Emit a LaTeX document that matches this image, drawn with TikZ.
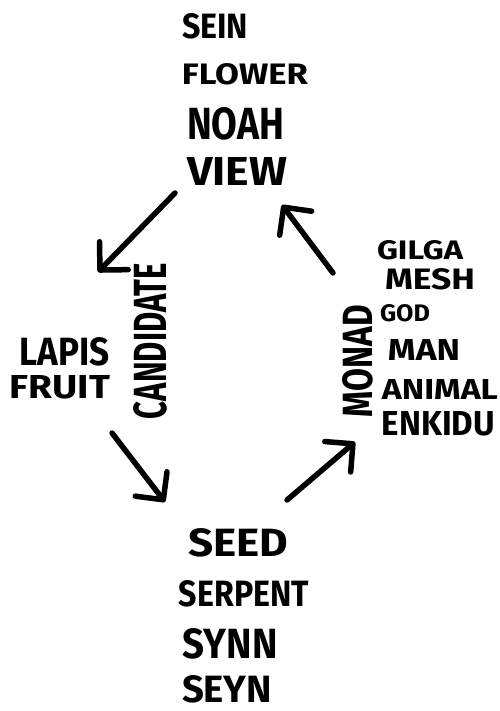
\documentclass[tikz,border=0pt]{standalone}
\usepackage{fontspec}
\setmainfont{Fira Sans}
\usepackage{graphicx}
\usetikzlibrary{arrows.meta}
\newcommand{\hw}[3]{\resizebox{#1pt}{#2pt}{\bfseries #3}}
\tikzset{
  word/.style={inner sep=0pt, anchor=center},
  flow/.style={line width=5.5pt, line cap=round, line join=round,
    -{Straight Barb[length=20pt,width=40pt,line cap=round,line join=round]}}
}
\begin{document}
\begin{tikzpicture}[x=1pt,y=-1pt]
\useasboundingbox[fill=white] (0,0) rectangle (499,711);
% top group
\node[word] (sein)   at (215,26)    {\hw{66}{25}{SEIN}};
\node[word] (flower) at (245,74)    {\hw{126}{21}{FLOWER}};
\node[word] (noah)   at (235.5,124) {\hw{97}{32}{NOAH}};
\node[word] (view)   at (237,171)   {\hw{100}{28}{VIEW}};
% left group
\node[word] (lapis)  at (65,352)  {\hw{90}{28}{LAPIS}};
\node[word] (fruit)  at (60,387)  {\hw{100}{23}{FRUIT}};
\node[word, rotate=90] (cand) at (150,341) {\hw{156}{33}{CANDIDATE}};
% bottom group
\node[word] (seed)    at (238,542.5) {\hw{100}{28}{SEED}};
\node[word] (serpent) at (244,594)   {\hw{130}{26}{SERPENT}};
\node[word] (synn)    at (230,644)   {\hw{95}{30}{SYNN}};
\node[word] (seyn)    at (227,689)   {\hw{90}{27}{SEYN}};
% right group
\node[word, rotate=90] (monad) at (358,361) {\hw{112}{30}{MONAD}};
\node[word] (gilga)  at (420,250)   {\hw{86}{19}{GILGA}};
\node[word] (mesh)   at (430,279)   {\hw{90}{21}{MESH}};
\node[word] (god)    at (405,313.5) {\hw{50}{17}{GOD}};
\node[word] (man)    at (424,350)   {\hw{72}{21}{MAN}};
\node[word] (animal) at (440,389)   {\hw{116}{20}{ANIMAL}};
\node[word] (enkidu) at (438.5,424) {\hw{113}{24}{ENKIDU}};
% arrow ends
\coordinate (a1s) at (175,193);
\coordinate (a1e) at (98,272);
\coordinate (a2s) at (112,433);
\coordinate (a2e) at (165,502);
\coordinate (a3s) at (287,500);
\coordinate (a3e) at (355,442);
\coordinate (a4s) at (333,273);
\coordinate (a4e) at (282,205);
\draw[flow] (a1s) -- (a1e);
\draw[flow] (a2s) -- (a2e);
\draw[flow] (a3s) -- (a3e);
\draw[flow] (a4s) -- (a4e);
\end{tikzpicture}
\end{document}
